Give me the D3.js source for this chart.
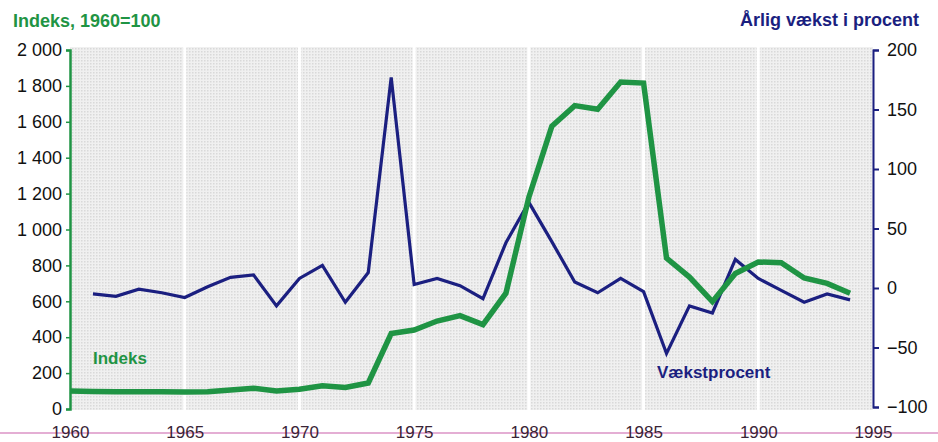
<!DOCTYPE html>
<html>
<head>
<meta charset="utf-8">
<script src="https://cdn.jsdelivr.net/npm/d3@7"></script>
<style>
  body { margin: 0; background: #fff; }
  svg { display: block; font-family: "Liberation Sans", Arial, sans-serif; }
</style>
</head>
<body>
<script>
// years, index (1960=100) and yearly growth in percent
const years = d3.range(1960, 1995);
const indeks = [100, 97, 96, 96, 96, 95, 96, 106, 116, 100, 110, 130, 120, 145, 420,
  440, 490, 520, 470, 645, 1180, 1575, 1690, 1670, 1822, 1816, 841, 735, 598, 755,
  819, 815, 730, 700, 645];
const vaekstYears = d3.range(1961, 1995);
const vaekst = [-5, -7, -1, -4, -8, 1, 9, 11, -15, 8, 19, -12, 13, 177,
  3, 8, 2, -9, 38, 72, 39, 5, -4, 8, -3, -55, -15, -21, 24, 8, -2, -12, -5, -10];

const leftTicks = [0, 200, 400, 600, 800, 1000, 1200, 1400, 1600, 1800, 2000];
const rightTicks = [-100, -50, 0, 50, 100, 150, 200];
const xTicks = [1960, 1965, 1970, 1975, 1980, 1985, 1990, 1995];

const W = 938, H = 442;
const green = "#1f9444", navy = "#1b1f80";

const svg = d3.select("body").append("svg").attr("width", W).attr("height", H);

const x = d3.scaleLinear().domain([1960, 1995]).range([70, 873]);
const yL = d3.scaleLinear().domain([0, 2000]).range([409, 50]);
const yR = d3.scaleLinear().domain([-100, 200]).range([407, 50]);

const fmt = d3.formatLocale({ decimal: ",", thousands: " ", grouping: [3], currency: ["", ""] }).format(",");

// dotted grey background of the plot
const defs = svg.append("defs");
const pat = defs.append("pattern").attr("id", "dots")
  .attr("width", 3).attr("height", 3).attr("patternUnits", "userSpaceOnUse");
pat.append("rect").attr("width", 3).attr("height", 3).attr("fill", "#f0f0f0");
pat.append("rect").attr("width", 1.5).attr("height", 1.5).attr("fill", "#d9d9d9");

svg.append("rect")
  .attr("x", x(1960)).attr("y", 47)
  .attr("width", x(1995) - x(1960)).attr("height", 363)
  .attr("fill", "url(#dots)");

// white vertical grid lines
svg.append("g").selectAll("line")
  .data(xTicks.slice(1, -1))
  .join("line")
  .attr("x1", d => x(d)).attr("x2", d => x(d))
  .attr("y1", 47).attr("y2", 410)
  .attr("stroke", "#fff").attr("stroke-width", 3);

// left axis
const gL = svg.append("g").attr("transform", `translate(${x(1960)},0)`)
  .call(d3.axisLeft(yL).tickValues(leftTicks).tickFormat(fmt).tickSize(4).tickPadding(4));
gL.select(".domain").attr("stroke", green).attr("stroke-width", 2.5);
gL.selectAll(".tick line").attr("stroke", green).attr("stroke-width", 1.5);
gL.selectAll("text").attr("fill", "#111").style("font-size", "18px");

// right axis
const gR = svg.append("g").attr("transform", `translate(${x(1995)},0)`)
  .call(d3.axisRight(yR).tickValues(rightTicks).tickSize(6).tickPadding(8));
gR.select(".domain").attr("stroke", navy).attr("stroke-width", 2);
gR.selectAll(".tick line").attr("stroke", navy).attr("stroke-width", 2);
gR.selectAll("text").attr("fill", "#111").style("font-size", "18px");

// x axis labels with the pink scan line
svg.append("line").attr("x1", 0).attr("x2", W).attr("y1", 433).attr("y2", 433)
  .attr("stroke", "#e4aed4").attr("stroke-width", 2);
const gX = svg.append("g").attr("transform", "translate(0,438)")
  .call(d3.axisBottom(x).tickValues(xTicks).tickFormat(d3.format("d")).tickSize(0).tickPadding(0));
gX.select(".domain").remove();
gX.selectAll("text").attr("y", 0).attr("dy", null)
  .attr("fill", "#3a2436").style("font-size", "17px");

// lines
svg.append("path")
  .datum(vaekst)
  .attr("fill", "none").attr("stroke", navy).attr("stroke-width", 3.2)
  .attr("stroke-linejoin", "miter")
  .attr("d", d3.line().x((d, i) => x(vaekstYears[i])).y(d => yR(d)));

svg.append("path")
  .datum(indeks)
  .attr("fill", "none").attr("stroke", green).attr("stroke-width", 5.5)
  .attr("stroke-linejoin", "miter")
  .attr("d", d3.line().x((d, i) => x(years[i])).y(d => yL(d)));

// titles and labels
svg.append("text").attr("x", 13).attr("y", 27)
  .attr("fill", green).style("font-size", "18px").style("font-weight", "bold")
  .text("Indeks, 1960=100");
svg.append("text").attr("x", 919).attr("y", 26).attr("text-anchor", "end")
  .attr("fill", navy).style("font-size", "18px").style("font-weight", "bold")
  .text("Årlig vækst i procent");
svg.append("text").attr("x", 93).attr("y", 364)
  .attr("fill", green).style("font-size", "17px").style("font-weight", "bold")
  .text("Indeks");
svg.append("text").attr("x", 657).attr("y", 378)
  .attr("fill", navy).style("font-size", "17px").style("font-weight", "bold")
  .text("Vækstprocent");
</script>
</body>
</html>
